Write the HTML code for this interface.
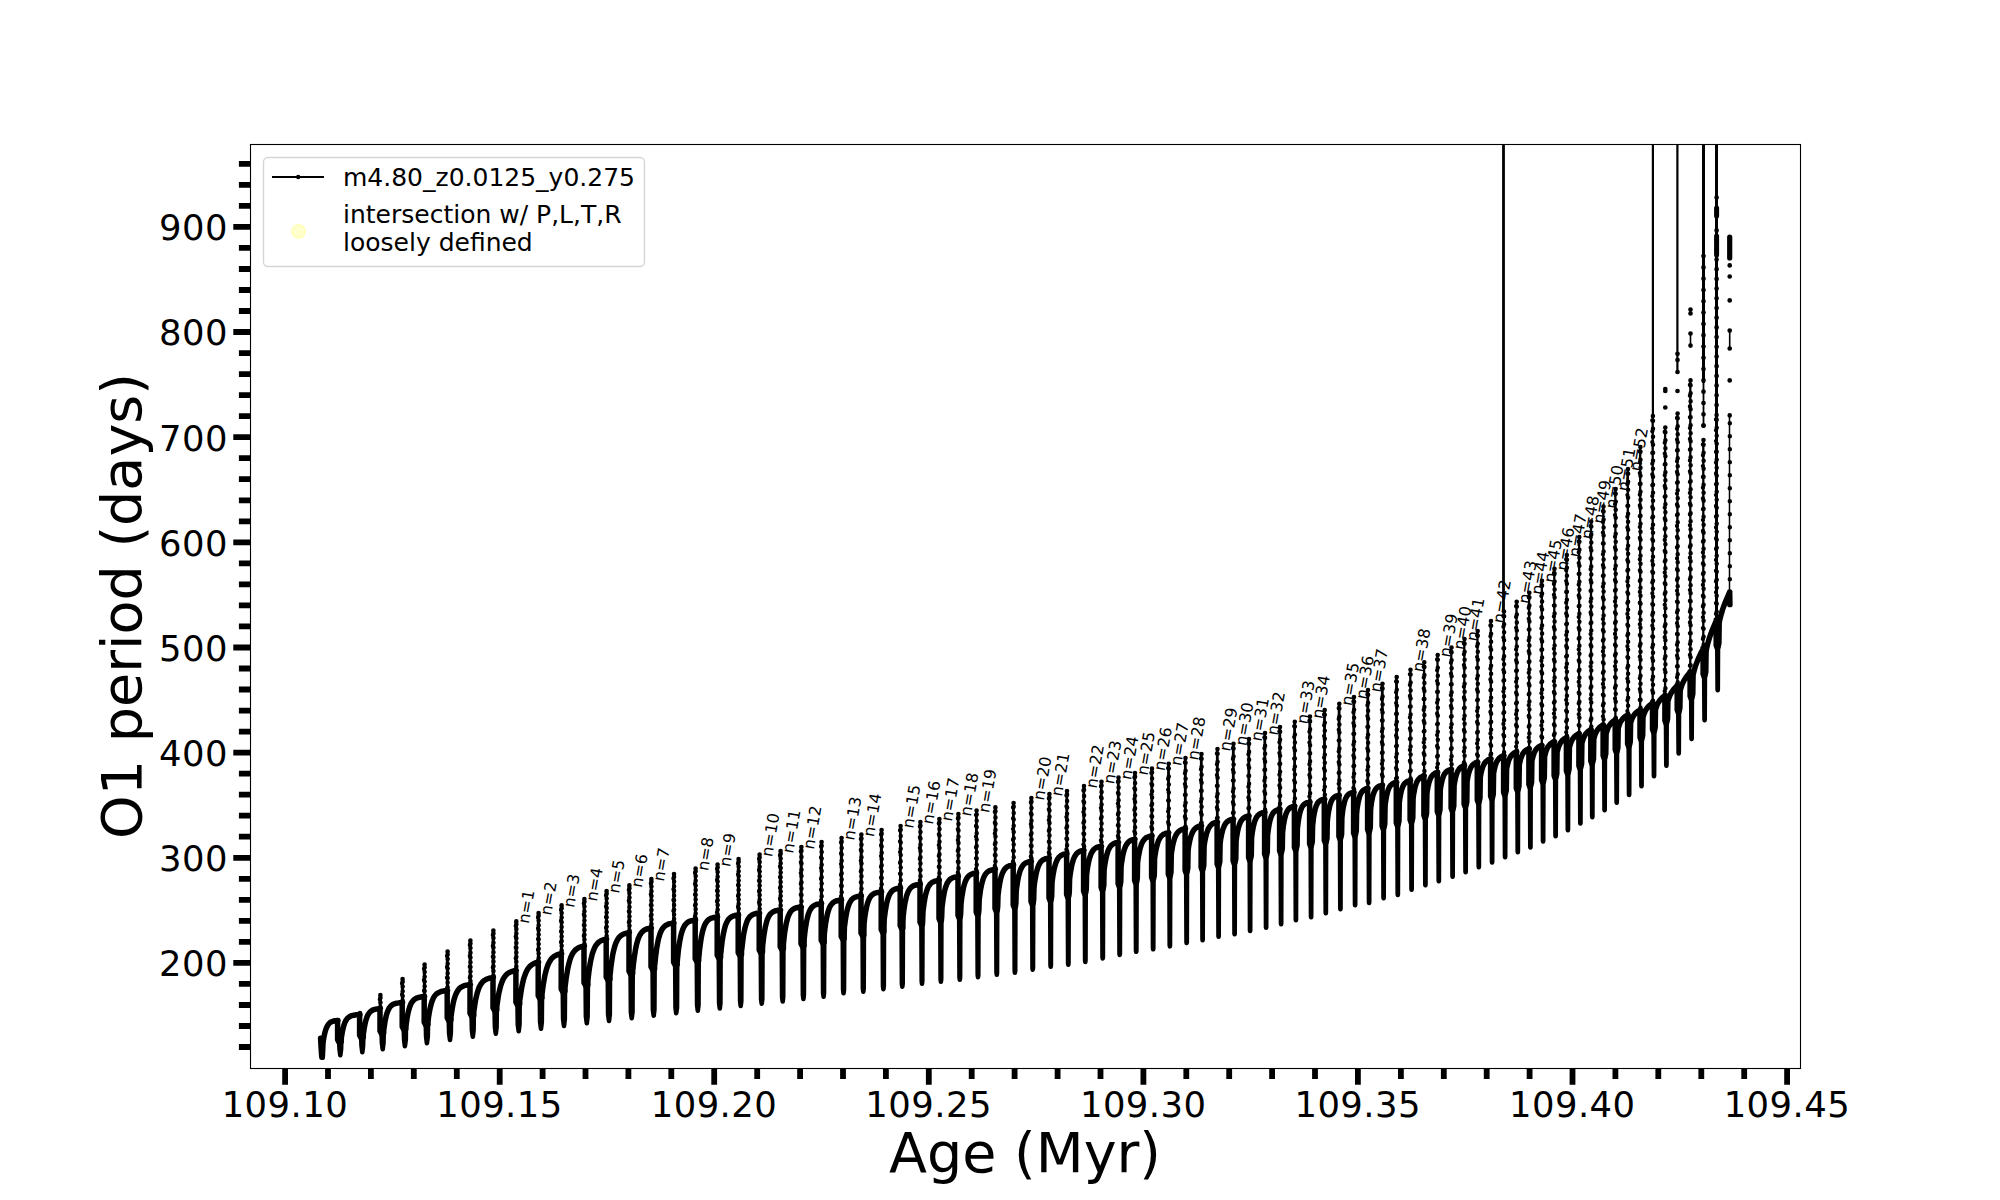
<!DOCTYPE html>
<html lang="en">
<head>
<meta charset="utf-8">
<title>O1 period vs Age</title>
<style>html,body{margin:0;padding:0;background:#fff;}body{width:2000px;height:1200px;overflow:hidden;position:relative;}</style>
</head>
<body>
<svg width="2000" height="1200" viewBox="0 0 2000 1200" style="position:absolute;left:0;top:0;display:block" font-family="'DejaVu Sans','Liberation Sans',sans-serif" fill="#000">
<rect x="0" y="0" width="2000" height="1200" fill="#fff"/>
<defs><clipPath id="axclip"><rect x="250" y="144" width="1550" height="924"/></clipPath></defs>
<g clip-path="url(#axclip)" fill="none" stroke="#000" stroke-linecap="round" stroke-linejoin="round">
<path d="M320.6 1038.3L321 1046L321.8 1057.3L322.3 1057.3L322.7 1050.3L323 1043.3L323.1 1042.8L323.2 1041.7L323.4 1040.3L323.7 1038.6L324 1036.7L324.4 1034.9L324.8 1033L325.3 1031.2L325.8 1029.5L326.4 1028L327 1026.7L327.6 1025.5L328.3 1024.5L329 1023.6L329.7 1022.9L330.5 1022.3L331.3 1021.9L332.2 1021.5L333.1 1021.2L334 1021L335 1020.8L335.9 1020.7L337 1020.6L338 1020.5M337.6 1020.5L337.6 1039.6L339.2 1042.6M341.3 1041.6L341.3 1037.8L341.5 1036.8L341.6 1036.3L341.8 1035L342.1 1033.4L342.4 1031.5L342.8 1029.6L343.3 1027.6L343.8 1025.7L344.4 1023.9L345 1022.3L345.7 1020.9L346.4 1019.6L347.2 1018.6L348 1017.8L348.9 1017.1L349.8 1016.5L350.8 1016L351.8 1015.7L352.8 1015.4L353.9 1015.2L355.1 1015L356.2 1014.8L357.5 1014.7L358.7 1014.6L360 1014.5M359.6 1014.5L359.6 1035.3L361.2 1038.3M363.3 1037.3L363.3 1033.9L363.5 1032.9L363.6 1032.4L363.8 1031.2L364 1029.5L364.3 1027.6L364.7 1025.6L365.1 1023.5L365.6 1021.5L366.1 1019.6L366.7 1017.8L367.3 1016.2L368 1014.8L368.7 1013.6L369.5 1012.6L370.3 1011.8L371.1 1011.1L372 1010.5L372.9 1010L373.9 1009.7L374.9 1009.4L375.9 1009.1L377 1008.9L378.1 1008.8L379.2 1008.6L380.4 1008.5M380 1008.5L380 1030.9L381.6 1033.9M383.7 1033.1L383.7 1030.1L383.9 1029.1L384 1028.5L384.2 1027L384.5 1025.1L384.8 1022.9L385.2 1020.5L385.7 1018.1L386.2 1015.8L386.8 1013.7L387.5 1011.8L388.2 1010.1L388.9 1008.6L389.7 1007.4L390.5 1006.4L391.4 1005.5L392.3 1004.8L393.3 1004.3L394.3 1003.9L395.4 1003.5L396.5 1003.3L397.6 1003.1L398.8 1002.9L400 1002.7L401.3 1002.6L402.6 1002.5M402.2 1002.5L402.2 1026.6L403.8 1029.6M405.9 1028.7L406 1025.7L406.2 1024.7L406.2 1024.1L406.4 1022.7L406.7 1020.8L407 1018.5L407.4 1016.2L407.9 1013.8L408.4 1011.4L409 1009.2L409.6 1007.2L410.3 1005.3L411 1003.7L411.8 1002.3L412.7 1001.2L413.5 1000.2L414.4 999.4L415.4 998.7L416.4 998.2L417.5 997.8L418.6 997.5L419.7 997.2L420.9 997L422.1 996.8L423.3 996.6L424.6 996.5M424.2 996.5L424.2 1022.2L425.8 1025.2M428 1024.3L428 1021.3L428.2 1020.3L428.3 1019.6L428.4 1018.1L428.7 1016.1L429.1 1013.8L429.5 1011.4L430 1008.8L430.6 1006.4L431.2 1004L431.8 1001.9L432.6 1000L433.3 998.3L434.1 996.8L435 995.5L435.9 994.5L436.9 993.6L437.9 992.9L439 992.4L440.1 991.9L441.2 991.5L442.4 991.2L443.7 991L444.9 990.8L446.2 990.6L447.6 990.5M447.2 990.5L447.2 1017.7L448.8 1020.7M451 1019.7L451 1016.5L451.2 1015.5L451.3 1014.8L451.5 1013.4L451.7 1011.4L452.1 1009.2L452.5 1006.7L453 1004.2L453.5 1001.7L454.1 999.4L454.8 997.1L455.5 995.1L456.3 993.3L457.1 991.7L458 990.3L458.9 989.2L459.8 988.2L460.8 987.4L461.9 986.7L463 986.2L464.1 985.7L465.3 985.4L466.5 985.1L467.8 984.9L469.1 984.7L470.4 984.5M470 984.5L470 1013.2L471.6 1016.2M473.8 1015.2L473.8 1011.3L474 1010.3L474.1 1009.7L474.3 1008.2L474.6 1006.3L474.9 1004L475.3 1001.5L475.8 998.9L476.4 996.3L477 993.8L477.7 991.5L478.4 989.4L479.1 987.4L480 985.7L480.8 984.2L481.8 982.9L482.7 981.8L483.7 980.9L484.8 980.2L485.9 979.5L487 979L488.2 978.6L489.5 978.2L490.7 977.9L492 977.7L493.4 977.5M493 977.5L493 1007.8L494.6 1010.8M496.8 1009.8L496.8 1006.1L497 1005.1L497.1 1004.4L497.3 1003L497.6 1001L497.9 998.7L498.3 996.2L498.8 993.5L499.4 990.9L500 988.3L500.6 985.9L501.4 983.6L502.1 981.6L502.9 979.7L503.8 978.1L504.7 976.7L505.7 975.4L506.7 974.4L507.7 973.5L508.8 972.8L510 972.2L511.2 971.7L512.4 971.3L513.6 970.9L515 970.6L516.3 970.4M515.9 970.4L515.9 1002.1L517.5 1005.1M519.7 1004.1L519.7 1000.5L519.9 999.5L520 998.9L520.2 997.4L520.5 995.5L520.8 993.1L521.2 990.5L521.7 987.8L522.2 985.1L522.8 982.4L523.4 979.8L524.1 977.4L524.9 975.2L525.7 973.1L526.5 971.3L527.4 969.7L528.3 968.2L529.3 967L530.3 966L531.4 965.1L532.5 964.3L533.6 963.7L534.8 963.1L536 962.7L537.3 962.3L538.6 962M538.2 962L538.2 995.6L539.8 998.6M542 997.6L542 993.7L542.2 992.7L542.3 992L542.5 990.4L542.8 988.2L543.1 985.6L543.6 982.8L544.1 979.9L544.6 976.9L545.2 974.1L545.9 971.3L546.6 968.8L547.4 966.4L548.2 964.3L549.1 962.5L550 960.9L550.9 959.5L551.9 958.3L553 957.3L554.1 956.4L555.2 955.7L556.4 955.1L557.7 954.6L558.9 954.2L560.2 953.9L561.6 953.6M561.2 953.6L561.2 988.9L562.8 991.9M565 990.9L565 986.9L565.2 985.9L565.3 985.2L565.5 983.5L565.8 981.2L566.1 978.5L566.6 975.6L567.1 972.6L567.6 969.5L568.2 966.6L568.9 963.7L569.6 961.1L570.3 958.7L571.1 956.6L572 954.7L572.9 953.1L573.9 951.7L574.9 950.5L575.9 949.5L577 948.7L578.1 948L579.3 947.4L580.5 947L581.8 946.6L583.1 946.3L584.4 946M584 946L584 982.7L585.6 985.7M587.9 984.7L587.9 980.7L588 979.4L588.1 978.6L588.3 976.9L588.6 974.6L588.9 971.9L589.3 968.9L589.8 965.8L590.3 962.7L590.9 959.7L591.6 956.9L592.2 954.2L593 951.8L593.8 949.7L594.6 947.8L595.5 946.1L596.4 944.7L597.4 943.5L598.4 942.5L599.4 941.7L600.5 941L601.7 940.4L602.8 939.9L604 939.6L605.3 939.3L606.6 939M606.2 939L606.2 976.9L607.8 979.9M610 978.9L610 974.9L610.2 973.9L610.3 973L610.5 971.2L610.7 968.7L611.1 965.7L611.5 962.6L612 959.3L612.5 956L613.1 952.8L613.8 949.9L614.5 947.2L615.3 944.7L616.1 942.6L617 940.7L617.9 939.1L618.8 937.7L619.8 936.6L620.9 935.7L622 934.9L623.1 934.3L624.3 933.8L625.5 933.4L626.8 933.1L628.1 932.8L629.4 932.6M629 932.6L629 971.3L630.6 974.3M632.7 973.3L632.7 970.1L632.9 969.1L633 968.3L633.2 966.4L633.4 963.9L633.8 961L634.2 957.8L634.7 954.5L635.2 951.3L635.8 948.1L636.4 945.1L637.1 942.4L637.8 940L638.6 937.8L639.4 936L640.3 934.4L641.2 933L642.2 931.9L643.2 931L644.2 930.2L645.3 929.6L646.5 929.1L647.6 928.7L648.9 928.4L650.1 928.2L651.4 928M651 928L651 966.8L652.6 969.8M654.6 968.8L654.6 965.3L654.8 964.3L654.9 963.4L655.1 961.4L655.4 958.7L655.7 955.6L656.2 952.3L656.6 948.8L657.2 945.4L657.8 942.2L658.4 939.2L659.2 936.5L659.9 934.1L660.7 932L661.6 930.2L662.5 928.7L663.5 927.4L664.5 926.4L665.5 925.5L666.6 924.9L667.7 924.4L668.9 923.9L670.1 923.6L671.4 923.4L672.7 923.2L674 923M673.6 923L673.6 962.1L675.2 965.1M677.2 964.5L677.2 961.5L677.4 960.5L677.4 959.6L677.6 957.7L677.9 955.1L678.2 952L678.6 948.7L679.1 945.4L679.6 942L680.2 938.9L680.8 935.9L681.5 933.3L682.2 930.9L683 928.8L683.8 927L684.7 925.5L685.6 924.3L686.5 923.3L687.5 922.5L688.5 921.8L689.6 921.3L690.7 920.9L691.9 920.6L693.1 920.3L694.3 920.1L695.6 920M695.2 920L695.2 958.6L696.8 961.6M698.7 960.6L698.7 957.6L698.9 956.6L699 955.7L699.2 953.7L699.4 951.1L699.8 948L700.2 944.8L700.7 941.4L701.2 938.1L701.8 935L702.4 932.1L703.1 929.5L703.9 927.2L704.6 925.2L705.5 923.5L706.4 922.1L707.3 920.9L708.3 920L709.3 919.2L710.4 918.6L711.5 918.1L712.6 917.8L713.8 917.5L715 917.3L716.3 917.1L717.6 917M717.2 917L717.2 955.3L718.8 958.3M720.6 957.3L720.6 954.3L720.8 953.3L720.9 952.4L721.1 950.6L721.3 948.2L721.7 945.3L722 942.2L722.5 939L723 935.9L723.6 932.9L724.2 930.1L724.8 927.6L725.5 925.3L726.3 923.3L727.1 921.7L727.9 920.2L728.8 919.1L729.7 918.1L730.7 917.3L731.7 916.7L732.8 916.2L733.9 915.8L735 915.5L736.2 915.3L737.4 915.1L738.6 915M738.2 915L738.2 952.6L739.8 955.6M741.5 954.6L741.5 950.9L741.7 949.9L741.8 949.1L742 947.4L742.3 945L742.6 942.2L743 939.1L743.4 936L743.9 933L744.5 930.1L745.1 927.4L745.8 925L746.5 922.8L747.2 920.9L748 919.3L748.9 917.9L749.8 916.8L750.7 915.9L751.7 915.2L752.7 914.6L753.7 914.1L754.8 913.8L756 913.5L757.1 913.3L758.4 913.1L759.6 913M759.2 913L759.2 949.9L760.8 952.9M762.5 951.9L762.5 947.9L762.7 946.1L762.7 945.3L762.9 943.5L763.2 941.1L763.5 938.4L763.9 935.4L764.4 932.4L764.9 929.4L765.4 926.6L766.1 923.9L766.7 921.5L767.4 919.4L768.2 917.6L769 916L769.8 914.7L770.7 913.7L771.7 912.8L772.6 912.1L773.7 911.5L774.7 911.1L775.8 910.7L777 910.5L778.1 910.3L779.3 910.1L780.6 910M780.2 910L780.2 946.8L781.8 949.8M783.4 948.8L783.4 944.8L783.6 942.1L783.7 941.3L783.9 939.6L784.1 937.3L784.4 934.6L784.8 931.7L785.3 928.7L785.8 925.8L786.3 923.1L787 920.5L787.6 918.2L788.3 916.1L789.1 914.4L789.9 912.8L790.7 911.6L791.6 910.5L792.5 909.7L793.5 909L794.5 908.5L795.6 908L796.7 907.7L797.8 907.5L799 907.3L800.2 907.1L801.4 907M801 907L801 943.6L802.6 946.6M804.1 945.6L804.1 941.6L804.3 937.7L804.4 937L804.6 935.3L804.8 933.1L805.1 930.6L805.5 927.8L806 924.9L806.4 922.1L807 919.5L807.6 917L808.2 914.7L808.9 912.7L809.6 911L810.4 909.5L811.2 908.2L812.1 907.2L813 906.3L813.9 905.6L814.9 905.1L815.9 904.7L817 904.3L818.1 904.1L819.2 903.9L820.4 903.7L821.6 903.6M821.2 903.6L821.2 940.3L822.8 943.3M824.2 942.3L824.2 938.3L824.4 933.2L824.5 932.4L824.7 930.8L824.9 928.7L825.3 926.2L825.6 923.5L826.1 920.7L826.6 918L827.1 915.4L827.7 913L828.3 910.8L829 908.8L829.7 907.1L830.5 905.7L831.3 904.5L832.2 903.5L833.1 902.6L834 902L835 901.4L836 901L837 900.7L838.1 900.5L839.2 900.3L840.4 900.1L841.6 900M841.2 900L841.2 936.4L842.8 939.4M844.2 938.4L844.2 934.4L844.4 927.9L844.4 927.2L844.6 925.7L844.9 923.6L845.2 921.2L845.6 918.6L846 915.9L846.5 913.3L847 910.8L847.6 908.5L848.2 906.4L848.9 904.5L849.6 902.9L850.4 901.5L851.2 900.3L852 899.3L852.9 898.5L853.8 897.9L854.8 897.4L855.8 897L856.9 896.7L857.9 896.4L859.1 896.2L860.2 896.1L861.4 896M861 896L861 933L862.6 936M863.9 935L863.9 931L864.1 923.1L864.2 922.4L864.4 920.8L864.6 918.8L864.9 916.3L865.3 913.7L865.8 911.1L866.3 908.5L866.8 906L867.4 903.7L868.1 901.7L868.7 899.9L869.5 898.3L870.3 897L871.1 895.9L872 895L872.9 894.3L873.8 893.7L874.8 893.2L875.9 892.9L876.9 892.6L878 892.4L879.2 892.2L880.4 892.1L881.6 892M881.2 892L881.2 929.4L882.7 932.4M884 931.4L884 927.4L884.2 919.9L884.3 919.2L884.4 917.7L884.7 915.7L885 913.4L885.3 910.8L885.8 908.2L886.2 905.6L886.7 903.1L887.3 900.8L887.9 898.7L888.6 896.8L889.2 895.1L890 893.7L890.8 892.5L891.6 891.5L892.4 890.7L893.3 890L894.3 889.5L895.2 889.1L896.2 888.7L897.3 888.5L898.3 888.3L899.5 888.1L900.6 888M900.2 888L900.2 925.7L901.6 928.7M902.9 927.7L902.9 923.7L903.2 916L903.3 915.3L903.5 913.7L903.7 911.6L904 909.2L904.4 906.6L904.8 903.9L905.3 901.3L905.9 898.8L906.4 896.5L907.1 894.4L907.8 892.6L908.5 891L909.3 889.6L910.1 888.5L910.9 887.6L911.8 886.8L912.8 886.2L913.7 885.7L914.8 885.3L915.8 885L916.9 884.8L918 884.6L919.2 884.5L920.4 884.4M920 884.4L920 922.1L921.4 925.1M922.5 924.1L922.7 920.1L923 911.7L923.1 911L923.2 909.5L923.5 907.6L923.8 905.3L924.1 902.8L924.6 900.2L925 897.6L925.5 895.2L926.1 892.9L926.7 890.9L927.4 889L928 887.4L928.8 886L929.6 884.8L930.4 883.9L931.2 883.1L932.1 882.4L933.1 881.9L934 881.5L935 881.1L936.1 880.9L937.1 880.7L938.3 880.5L939.4 880.4M939 880.4L939 918.6L940.3 921.6M941.4 920.6L941.7 916.6L942 907.8L942.1 907.1L942.2 905.6L942.5 903.7L942.8 901.4L943.1 898.9L943.6 896.3L944 893.8L944.5 891.4L945.1 889.1L945.7 887L946.4 885.2L947 883.6L947.8 882.2L948.6 881L949.4 880.1L950.2 879.2L951.1 878.6L952.1 878.1L953 877.7L954 877.3L955.1 877.1L956.1 876.9L957.3 876.7L958.4 876.6M958 876.6L958 915.3L959.2 918.3M960.3 917.3L960.7 913.3L961 904L961.1 903.3L961.2 902L961.5 900.1L961.7 897.9L962.1 895.5L962.5 893L962.9 890.6L963.4 888.2L963.9 886L964.5 883.9L965.1 882.1L965.8 880.4L966.5 879L967.2 877.8L968 876.8L968.8 875.9L969.7 875.2L970.6 874.7L971.5 874.2L972.4 873.8L973.4 873.5L974.5 873.3L975.5 873.1L976.6 873M976.2 873L976.2 911.9L977.4 914.9M978.5 913.9L978.9 909.9L979.2 900L979.3 899.3L979.4 897.9L979.7 896L980 893.8L980.3 891.4L980.7 888.9L981.2 886.4L981.7 884L982.3 881.8L982.9 879.8L983.5 878L984.2 876.4L984.9 875L985.7 873.9L986.5 872.9L987.3 872.1L988.2 871.4L989.1 870.9L990.1 870.5L991.1 870.1L992.1 869.9L993.2 869.7L994.3 869.5L995.4 869.4M995 869.4L995 908.6L996.2 911.6M997.2 910.6L997.7 906.6L998 895.5L998.1 894.9L998.2 893.6L998.5 891.7L998.7 889.6L999.1 887.2L999.5 884.8L999.9 882.3L1000.4 880L1000.9 877.8L1001.5 875.8L1002.1 874L1002.8 872.4L1003.5 871L1004.2 869.8L1005 868.8L1005.8 867.9L1006.7 867.2L1007.6 866.7L1008.5 866.2L1009.4 865.8L1010.4 865.6L1011.5 865.3L1012.5 865.1L1013.6 865M1013.2 865L1013.2 905L1014.4 908M1015.4 907L1015.9 903L1016.2 891.6L1016.3 891L1016.4 889.7L1016.6 887.9L1016.9 885.8L1017.3 883.5L1017.6 881.2L1018.1 878.8L1018.5 876.5L1019.1 874.3L1019.6 872.3L1020.2 870.5L1020.9 868.9L1021.6 867.5L1022.3 866.3L1023 865.3L1023.8 864.4L1024.7 863.7L1025.5 863.1L1026.4 862.7L1027.3 862.3L1028.3 862L1029.3 861.7L1030.3 861.6L1031.4 861.4M1031 861.4L1031 901.5L1032.2 904.5M1033.2 903.5L1033.7 899.5L1034 887.7L1034.1 887.1L1034.2 885.7L1034.4 884L1034.7 881.9L1035.1 879.6L1035.5 877.3L1035.9 874.9L1036.4 872.7L1036.9 870.6L1037.5 868.6L1038.1 866.8L1038.7 865.3L1039.4 863.9L1040.2 862.7L1040.9 861.7L1041.7 860.9L1042.6 860.2L1043.4 859.7L1044.4 859.2L1045.3 858.8L1046.3 858.6L1047.3 858.3L1048.3 858.1L1049.4 858M1049 858L1049 898.1L1050.2 901.1M1051.1 900.1L1051.7 896.1L1052 883L1052.1 882.4L1052.2 881.2L1052.4 879.5L1052.7 877.4L1053 875.2L1053.4 873L1053.8 870.7L1054.3 868.5L1054.8 866.4L1055.4 864.4L1056 862.7L1056.6 861.1L1057.3 859.7L1058 858.5L1058.7 857.5L1059.5 856.7L1060.3 856L1061.2 855.4L1062.1 854.9L1063 854.5L1064 854.2L1064.9 854L1066 853.8L1067 853.6M1066.6 853.6L1066.6 894.5L1067.8 897.5M1068.7 896.5L1069.3 892.5L1069.6 879.2L1069.7 878.6L1069.8 877.4L1070 875.8L1070.3 873.9L1070.6 871.8L1071 869.6L1071.4 867.3L1071.8 865.2L1072.3 863.1L1072.9 861.2L1073.4 859.5L1074 857.9L1074.7 856.5L1075.4 855.3L1076.1 854.3L1076.8 853.4L1077.6 852.7L1078.4 852.1L1079.3 851.6L1080.2 851.2L1081.1 850.9L1082 850.6L1083 850.4L1084 850.2M1083.6 850.2L1083.6 891.2L1084.8 894.2M1085.7 893.2L1086.3 889.2L1086.6 874.8L1086.7 874.3L1086.8 873.1L1087 871.4L1087.3 869.4L1087.6 867.3L1088 865.1L1088.4 862.9L1088.9 860.7L1089.4 858.7L1090 856.8L1090.6 855.1L1091.2 853.6L1091.9 852.2L1092.6 851.1L1093.3 850.1L1094.1 849.2L1094.9 848.5L1095.7 848L1096.6 847.5L1097.5 847.1L1098.5 846.8L1099.5 846.6L1100.5 846.4L1101.5 846.2M1101.1 846.2L1101.1 887.3L1102.2 890.3M1103.1 889.3L1103.8 885.3L1104.1 870.2L1104.2 869.7L1104.3 868.6L1104.5 867L1104.8 865.1L1105.1 863.1L1105.5 861L1105.9 858.8L1106.3 856.7L1106.8 854.8L1107.4 852.9L1107.9 851.2L1108.5 849.7L1109.2 848.4L1109.9 847.2L1110.6 846.2L1111.3 845.4L1112.1 844.7L1112.9 844.1L1113.8 843.6L1114.7 843.2L1115.6 842.9L1116.5 842.6L1117.5 842.4L1118.5 842.2M1118.1 842.2L1118.1 883.5L1119.2 886.5M1120.1 885.5L1120.8 881.5L1121.1 866.3L1121.2 865.8L1121.3 864.7L1121.5 863.3L1121.8 861.5L1122.1 859.6L1122.4 857.6L1122.8 855.5L1123.2 853.5L1123.7 851.6L1124.2 849.9L1124.8 848.2L1125.4 846.7L1126 845.4L1126.7 844.3L1127.4 843.3L1128.1 842.4L1128.8 841.7L1129.6 841.1L1130.4 840.6L1131.3 840.2L1132.2 839.9L1133.1 839.6L1134 839.4L1135 839.2M1134.6 839.2L1134.6 880.3L1135.7 883.3M1136.6 882.3L1137.3 878.3L1137.6 862.4L1137.7 861.9L1137.8 860.8L1138 859.3L1138.3 857.5L1138.6 855.6L1139 853.6L1139.4 851.6L1139.8 849.6L1140.3 847.8L1140.9 846L1141.4 844.4L1142 843L1142.7 841.7L1143.4 840.6L1144.1 839.7L1144.8 838.9L1145.6 838.2L1146.4 837.7L1147.3 837.2L1148.2 836.8L1149.1 836.5L1150 836.3L1151 836.1L1152 835.9M1151.6 835.9L1151.6 877.2L1152.7 880.2M1153.5 879.2L1154.3 875.2L1154.6 858.6L1154.7 858.1L1154.8 857.1L1155 855.6L1155.3 854L1155.6 852.1L1155.9 850.2L1156.3 848.2L1156.8 846.3L1157.3 844.5L1157.8 842.8L1158.3 841.2L1158.9 839.8L1159.6 838.6L1160.2 837.5L1160.9 836.6L1161.7 835.8L1162.4 835.1L1163.2 834.5L1164.1 834L1164.9 833.7L1165.8 833.3L1166.8 833.1L1167.7 832.9L1168.7 832.7M1168.3 832.7L1168.3 874.1L1169.4 877.1M1170.2 876.1L1171 872.1L1171.3 854.2L1171.4 853.7L1171.5 852.7L1171.7 851.3L1172 849.6L1172.3 847.8L1172.6 845.9L1173 844L1173.5 842.1L1174 840.3L1174.5 838.6L1175.1 837.1L1175.7 835.7L1176.3 834.5L1177 833.4L1177.7 832.5L1178.4 831.7L1179.2 831.1L1180 830.5L1180.8 830L1181.7 829.7L1182.6 829.3L1183.5 829.1L1184.5 828.9L1185.5 828.7M1185.1 828.7L1185.1 870.3L1186.2 873.3M1187 872.3L1187.8 868.3L1188.1 850.3L1188.2 849.8L1188.3 848.9L1188.5 847.6L1188.7 846.1L1189 844.4L1189.4 842.6L1189.7 840.8L1190.2 839L1190.6 837.3L1191.1 835.7L1191.7 834.2L1192.2 832.9L1192.8 831.7L1193.5 830.6L1194.1 829.7L1194.8 828.9L1195.6 828.2L1196.3 827.6L1197.1 827.1L1197.9 826.7L1198.8 826.4L1199.7 826.1L1200.6 825.9L1201.5 825.7M1201.1 825.7L1201.1 867.3L1202.2 870.3M1202.9 869.3L1203.8 865.3L1204.1 846.2L1204.2 845.7L1204.3 844.8L1204.5 843.5L1204.7 842L1205 840.4L1205.4 838.6L1205.7 836.9L1206.2 835.1L1206.6 833.4L1207.1 831.9L1207.7 830.4L1208.2 829.1L1208.8 827.9L1209.5 826.9L1210.1 826L1210.8 825.2L1211.6 824.5L1212.3 823.9L1213.1 823.4L1213.9 823L1214.8 822.7L1215.7 822.4L1216.6 822.2L1217.5 822M1217.1 822L1217.1 863.7L1218.2 866.7M1218.9 865.7L1219.8 861.7L1220.1 843.4L1220.2 843L1220.3 842L1220.5 840.7L1220.7 839.1L1221 837.4L1221.4 835.6L1221.7 833.8L1222.2 832L1222.6 830.3L1223.1 828.7L1223.7 827.3L1224.2 826L1224.8 824.8L1225.5 823.7L1226.1 822.8L1226.8 822.1L1227.6 821.4L1228.3 820.9L1229.1 820.4L1229.9 820L1230.8 819.7L1231.7 819.5L1232.6 819.3L1233.5 819.1M1233.1 819.1L1233.1 860.9L1234.2 863.9M1234.9 862.9L1235.8 858.9L1236.1 840.8L1236.2 840.3L1236.3 839.3L1236.5 838L1236.7 836.4L1237 834.7L1237.3 832.8L1237.7 831L1238.1 829.2L1238.5 827.4L1239 825.8L1239.5 824.3L1240.1 823L1240.6 821.8L1241.3 820.7L1241.9 819.8L1242.6 819L1243.3 818.3L1244 817.8L1244.8 817.3L1245.6 816.9L1246.4 816.6L1247.2 816.3L1248.1 816.1L1249 815.9M1248.6 815.9L1248.6 857.6L1249.7 860.6M1250.4 859.6L1251.3 855.6L1251.6 837.6L1251.7 837.1L1251.8 836.1L1252 834.6L1252.2 832.9L1252.5 831L1252.9 829.1L1253.2 827.1L1253.7 825.2L1254.1 823.5L1254.6 821.8L1255.2 820.3L1255.7 818.9L1256.3 817.7L1257 816.7L1257.6 815.8L1258.3 815.1L1259.1 814.4L1259.8 813.9L1260.6 813.5L1261.4 813.1L1262.3 812.8L1263.2 812.6L1264.1 812.4L1265 812.2M1264.6 812.2L1264.6 854.1L1265.7 857.1M1266.4 856.1L1267.3 852.1L1267.6 834.8L1267.7 834.4L1267.8 833.3L1268 831.9L1268.2 830.2L1268.5 828.4L1268.8 826.4L1269.1 824.5L1269.5 822.6L1269.9 820.8L1270.4 819.2L1270.9 817.6L1271.4 816.2L1272 815L1272.6 813.9L1273.2 813L1273.8 812.2L1274.5 811.6L1275.2 811L1275.9 810.5L1276.7 810.2L1277.5 809.9L1278.3 809.6L1279.1 809.4L1280 809.2M1279.6 809.2L1279.6 850.9L1280.7 853.9M1281.4 852.9L1282.3 848.9L1282.6 832L1282.7 831.5L1282.8 830.4L1283 829L1283.2 827.2L1283.4 825.3L1283.8 823.4L1284.1 821.4L1284.5 819.5L1284.9 817.6L1285.4 815.9L1285.8 814.4L1286.4 813L1286.9 811.8L1287.5 810.7L1288.1 809.8L1288.7 809L1289.4 808.3L1290.1 807.8L1290.8 807.3L1291.5 807L1292.3 806.6L1293.1 806.4L1293.9 806.2L1294.8 806M1294.4 806L1294.4 847.3L1295.5 850.3M1296.2 849.3L1297.1 845.3L1297.4 828.6L1297.5 828L1297.6 826.8L1297.8 825.3L1298 823.4L1298.3 821.4L1298.6 819.3L1299 817.2L1299.3 815.2L1299.8 813.3L1300.2 811.6L1300.7 810.1L1301.3 808.7L1301.8 807.5L1302.4 806.4L1303.1 805.5L1303.7 804.8L1304.4 804.2L1305.1 803.7L1305.9 803.2L1306.6 802.9L1307.4 802.6L1308.3 802.4L1309.1 802.2L1310 802M1309.6 802L1309.6 843.7L1310.7 846.7M1311.4 845.7L1312.3 841.7L1312.6 825.8L1312.7 825.2L1312.8 824L1313 822.4L1313.2 820.6L1313.4 818.5L1313.7 816.4L1314.1 814.3L1314.5 812.3L1314.9 810.4L1315.3 808.6L1315.8 807.1L1316.3 805.7L1316.9 804.5L1317.4 803.4L1318 802.5L1318.7 801.8L1319.3 801.2L1320 800.7L1320.7 800.3L1321.5 799.9L1322.2 799.7L1323 799.4L1323.9 799.3L1324.7 799.1M1324.3 799.1L1324.3 840.4L1325.4 843.4M1326.1 842.4L1327 838.4L1327.3 821.5L1327.4 821L1327.5 819.9L1327.6 818.3L1327.9 816.5L1328.1 814.5L1328.4 812.5L1328.8 810.4L1329.2 808.5L1329.6 806.6L1330 804.9L1330.5 803.4L1331 802L1331.5 800.8L1332.1 799.7L1332.7 798.8L1333.3 798.1L1334 797.5L1334.7 796.9L1335.4 796.5L1336.1 796.1L1336.9 795.8L1337.7 795.6L1338.5 795.4L1339.3 795.2M1338.9 795.2L1338.9 836.4L1340 839.4M1340.7 838.4L1341.6 834.4L1341.9 817.5L1342 817L1342.1 815.9L1342.3 814.4L1342.5 812.7L1342.7 810.7L1343 808.8L1343.4 806.8L1343.8 804.9L1344.2 803.1L1344.6 801.5L1345.1 800L1345.6 798.6L1346.2 797.5L1346.7 796.5L1347.3 795.6L1348 794.9L1348.6 794.3L1349.3 793.8L1350 793.4L1350.8 793.1L1351.5 792.8L1352.3 792.6L1353.2 792.4L1354 792.2M1353.6 792.2L1353.6 833L1354.7 836M1355.4 835L1356.3 831L1356.6 813.2L1356.7 812.7L1356.8 811.7L1356.9 810.4L1357.1 808.7L1357.4 806.9L1357.7 805.1L1358 803.2L1358.4 801.4L1358.8 799.7L1359.2 798.1L1359.6 796.6L1360.1 795.2L1360.6 794.1L1361.2 793L1361.7 792.1L1362.3 791.3L1362.9 790.7L1363.6 790.1L1364.3 789.7L1365 789.3L1365.7 788.9L1366.4 788.7L1367.2 788.4L1368 788.2M1367.6 788.2L1367.6 829.6L1368.7 832.6M1369.4 831.6L1370.3 827.6L1370.6 809.5L1370.7 809L1370.8 808L1370.9 806.6L1371.2 805L1371.4 803.2L1371.7 801.4L1372.1 799.5L1372.4 797.7L1372.8 796L1373.3 794.4L1373.8 793L1374.3 791.7L1374.8 790.6L1375.4 789.6L1376 788.7L1376.6 788L1377.2 787.4L1377.9 786.9L1378.6 786.5L1379.3 786.1L1380.1 785.8L1380.9 785.6L1381.7 785.4L1382.5 785.2M1382.1 785.2L1382.1 826L1383.2 829M1383.9 828L1384.8 824L1385.1 805.6L1385.2 805.2L1385.3 804.2L1385.4 802.9L1385.7 801.4L1385.9 799.7L1386.2 798L1386.5 796.2L1386.9 794.5L1387.3 792.9L1387.7 791.4L1388.2 790L1388.7 788.7L1389.2 787.6L1389.7 786.6L1390.3 785.8L1390.9 785.1L1391.6 784.5L1392.2 784L1392.9 783.5L1393.6 783.2L1394.3 782.9L1395.1 782.6L1395.9 782.4L1396.7 782.2M1396.3 782.2L1396.3 822.9L1397.4 825.9M1398.1 824.9L1399 820.9L1399.3 802.6L1399.4 802.2L1399.5 801.3L1399.6 800.1L1399.8 798.7L1400.1 797.2L1400.4 795.5L1400.7 793.9L1401 792.3L1401.4 790.7L1401.8 789.3L1402.3 788L1402.7 786.8L1403.2 785.7L1403.8 784.8L1404.3 783.9L1404.9 783.3L1405.5 782.7L1406.2 782.2L1406.8 781.7L1407.5 781.4L1408.2 781.1L1409 780.9L1409.7 780.7L1410.5 780.5M1410.1 780.5L1410.1 819.9L1411.2 822.9M1411.9 821.9L1412.8 817.9L1413.1 798.2L1413.2 797.8L1413.3 797L1413.4 795.8L1413.6 794.5L1413.9 793L1414.2 791.4L1414.5 789.8L1414.8 788.2L1415.2 786.7L1415.6 785.3L1416.1 783.9L1416.5 782.7L1417 781.7L1417.6 780.7L1418.1 779.9L1418.7 779.1L1419.3 778.5L1420 777.9L1420.6 777.4L1421.3 777L1422 776.7L1422.8 776.3L1423.5 776.1L1424.3 775.8M1423.9 775.8L1423.9 815.3L1425 818.3M1425.7 817.3L1426.6 813.3L1426.9 793.6L1426.9 793.3L1427.1 792.5L1427.2 791.4L1427.4 790.1L1427.7 788.7L1427.9 787.2L1428.2 785.7L1428.6 784.2L1428.9 782.8L1429.3 781.4L1429.8 780.2L1430.2 779L1430.7 778L1431.2 777L1431.8 776.2L1432.3 775.5L1432.9 774.9L1433.5 774.3L1434.2 773.9L1434.8 773.4L1435.5 773.1L1436.2 772.8L1436.9 772.5L1437.7 772.3M1437.3 772.3L1437.3 811.6L1438.4 814.6M1439.1 813.6L1440 809.6L1440.3 789.8L1440.4 789.4L1440.5 788.6L1440.6 787.6L1440.8 786.3L1441.1 784.9L1441.4 783.5L1441.7 782L1442 780.6L1442.4 779.2L1442.8 777.9L1443.3 776.6L1443.7 775.5L1444.2 774.5L1444.8 773.7L1445.3 772.9L1445.9 772.2L1446.5 771.6L1447.2 771.1L1447.8 770.7L1448.5 770.3L1449.2 770L1450 769.7L1450.7 769.5L1451.5 769.3M1451.1 769.3L1451.1 808L1452.2 811M1452.9 810L1453.8 806L1454.1 785.6L1454.1 785.2L1454.3 784.5L1454.4 783.6L1454.6 782.4L1454.8 781.2L1455.1 779.8L1455.4 778.5L1455.7 777.1L1456.1 775.8L1456.4 774.5L1456.9 773.4L1457.3 772.3L1457.8 771.3L1458.3 770.4L1458.8 769.6L1459.3 768.8L1459.9 768.2L1460.5 767.7L1461.1 767.2L1461.7 766.7L1462.4 766.4L1463.1 766L1463.8 765.8L1464.5 765.5M1464.1 765.5L1464.1 804L1465.2 807M1465.9 806L1466.8 802L1467.1 781.3L1467.1 781L1467.3 780.4L1467.4 779.4L1467.6 778.3L1467.8 777.1L1468.1 775.8L1468.4 774.5L1468.7 773.2L1469.1 771.9L1469.5 770.7L1469.9 769.5L1470.4 768.5L1470.8 767.5L1471.3 766.7L1471.9 765.9L1472.4 765.2L1473 764.6L1473.6 764.1L1474.2 763.7L1474.9 763.3L1475.5 762.9L1476.2 762.6L1477 762.3L1477.7 762.1M1477.3 762.1L1477.3 800L1478.4 803M1479.1 802L1480 798L1480.3 777.3L1480.3 777L1480.5 776.3L1480.6 775.4L1480.8 774.4L1481 773.2L1481.3 772L1481.6 770.7L1482 769.4L1482.3 768.2L1482.7 767.1L1483.1 766L1483.6 765L1484.1 764.1L1484.6 763.2L1485.1 762.5L1485.7 761.9L1486.3 761.3L1486.9 760.8L1487.5 760.3L1488.1 759.9L1488.8 759.6L1489.5 759.3L1490.3 759L1491 758.8M1490.6 758.8L1490.6 796.1L1491.7 799.1M1492.4 798.1L1493.3 794.1L1493.6 773.2L1493.6 773L1493.8 772.4L1493.9 771.5L1494.1 770.6L1494.3 769.5L1494.6 768.3L1494.9 767.1L1495.2 765.9L1495.6 764.8L1495.9 763.7L1496.4 762.6L1496.8 761.7L1497.3 760.8L1497.8 760L1498.3 759.3L1498.8 758.6L1499.4 758L1500 757.5L1500.6 757.1L1501.2 756.7L1501.9 756.3L1502.6 756L1503.3 755.8L1504 755.5M1503.6 755.5L1503.6 792.2L1504.7 795.2M1505.4 794.2L1506.3 790.2L1506.6 769L1506.6 768.8L1506.7 768.2L1506.9 767.5L1507.1 766.6L1507.3 765.5L1507.6 764.5L1507.8 763.3L1508.2 762.2L1508.5 761.1L1508.9 760.1L1509.3 759.1L1509.7 758.1L1510.2 757.3L1510.6 756.5L1511.1 755.7L1511.7 755.1L1512.2 754.5L1512.8 754L1513.4 753.5L1514 753.1L1514.6 752.7L1515.3 752.4L1516 752.1L1516.7 751.8M1516.3 751.8L1516.3 788L1517.4 791M1518.1 790L1519 786L1519.3 764.9L1519.3 764.6L1519.4 764.1L1519.6 763.4L1519.8 762.6L1520 761.6L1520.2 760.6L1520.5 759.5L1520.8 758.5L1521.2 757.5L1521.6 756.5L1522 755.5L1522.4 754.6L1522.8 753.8L1523.3 753L1523.8 752.4L1524.3 751.7L1524.9 751.2L1525.4 750.7L1526 750.2L1526.6 749.8L1527.3 749.5L1527.9 749.2L1528.6 748.9L1529.3 748.6M1528.9 748.6L1528.9 784.2L1530 787.2M1530.7 786.2L1531.6 782.2L1531.9 761L1531.9 760.8L1532 760.3L1532.2 759.6L1532.4 758.8L1532.6 757.9L1532.9 756.9L1533.1 755.9L1533.5 754.9L1533.8 753.9L1534.2 752.9L1534.6 752L1535 751.2L1535.5 750.4L1535.9 749.7L1536.4 749L1537 748.4L1537.5 747.9L1538.1 747.4L1538.7 746.9L1539.3 746.5L1539.9 746.2L1540.6 745.9L1541.3 745.6L1542 745.3M1541.6 745.3L1541.6 779.9L1542.7 782.9M1543.4 781.9L1544.3 777.9L1544.6 756.7L1544.6 756.5L1544.7 756.1L1544.9 755.4L1545.1 754.7L1545.3 753.8L1545.5 752.9L1545.8 752L1546.1 751L1546.5 750.1L1546.8 749.2L1547.2 748.3L1547.6 747.5L1548.1 746.7L1548.6 746L1549.1 745.4L1549.6 744.8L1550.1 744.2L1550.7 743.7L1551.3 743.3L1551.9 742.8L1552.5 742.5L1553.1 742.1L1553.8 741.8L1554.5 741.5M1554.1 741.5L1554.1 775.6L1555.2 778.6M1555.9 777.6L1556.8 773.6L1557.1 752.3L1557.1 752.1L1557.2 751.7L1557.4 751.1L1557.6 750.4L1557.8 749.6L1558 748.7L1558.3 747.8L1558.6 746.9L1558.9 746L1559.3 745.2L1559.7 744.3L1560.1 743.5L1560.5 742.8L1561 742.1L1561.5 741.4L1562 740.8L1562.5 740.3L1563 739.8L1563.6 739.3L1564.2 738.9L1564.8 738.5L1565.5 738.2L1566.1 737.8L1566.8 737.5M1566.4 737.5L1566.4 770.9L1567.5 773.9M1568.2 772.9L1569.1 768.9L1569.4 747.7L1569.4 747.5L1569.5 747.1L1569.7 746.5L1569.9 745.9L1570.1 745.1L1570.3 744.3L1570.6 743.5L1570.9 742.6L1571.3 741.7L1571.6 740.9L1572 740.1L1572.4 739.4L1572.9 738.7L1573.4 738L1573.9 737.4L1574.4 736.8L1574.9 736.3L1575.5 735.8L1576.1 735.4L1576.7 735L1577.3 734.6L1577.9 734.2L1578.6 733.9L1579.3 733.6M1578.9 733.6L1578.9 765.9L1580 768.9M1580.7 767.9L1581.6 763.9L1581.9 743.4L1581.9 743.2L1582 742.8L1582.2 742.3L1582.3 741.7L1582.5 741L1582.8 740.2L1583 739.4L1583.3 738.6L1583.7 737.8L1584 737L1584.4 736.2L1584.8 735.5L1585.2 734.8L1585.6 734.1L1586.1 733.5L1586.6 732.9L1587.1 732.4L1587.6 731.9L1588.2 731.4L1588.7 731L1589.3 730.6L1589.9 730.2L1590.6 729.8L1591.2 729.5M1590.8 729.5L1590.8 761L1591.9 764M1592.6 763L1593.5 759L1593.8 739L1593.8 738.8L1593.9 738.4L1594.1 737.9L1594.3 737.2L1594.5 736.5L1594.7 735.7L1595 734.9L1595.3 734.1L1595.6 733.3L1596 732.5L1596.4 731.7L1596.8 731L1597.2 730.3L1597.7 729.6L1598.2 729L1598.7 728.4L1599.2 727.8L1599.7 727.3L1600.3 726.8L1600.9 726.4L1601.5 726L1602.2 725.5L1602.8 725.2L1603.5 724.8M1603.1 724.8L1603.1 755.6L1604.2 758.6M1604.9 757.6L1605.8 753.6L1606.1 733.9L1606.1 733.7L1606.2 733.3L1606.4 732.8L1606.6 732.2L1606.8 731.5L1607 730.7L1607.3 730L1607.6 729.2L1607.9 728.4L1608.2 727.6L1608.6 726.8L1609 726.1L1609.5 725.4L1609.9 724.7L1610.4 724.1L1610.9 723.5L1611.4 722.9L1611.9 722.4L1612.5 721.9L1613.1 721.4L1613.7 721L1614.3 720.6L1614.9 720.2L1615.6 719.8M1615.2 719.8L1615.2 749.6L1616.3 752.6M1617 751.6L1617.9 747.6L1618.2 728.5L1618.2 728.3L1618.3 727.9L1618.5 727.4L1618.7 726.8L1618.9 726.2L1619.1 725.4L1619.4 724.6L1619.7 723.9L1620 723.1L1620.4 722.3L1620.8 721.6L1621.2 720.8L1621.7 720.2L1622.1 719.5L1622.6 718.9L1623.1 718.3L1623.7 717.8L1624.2 717.3L1624.8 716.8L1625.4 716.4L1626 716L1626.7 715.6L1627.3 715.2L1628 714.8M1627.6 714.8L1627.6 743.7L1628.7 746.7M1629.4 745.7L1630.3 741.7L1630.6 723.1L1630.6 722.9L1630.7 722.6L1630.9 722.1L1631.1 721.5L1631.3 720.8L1631.5 720.1L1631.8 719.4L1632.1 718.6L1632.4 717.9L1632.8 717.1L1633.2 716.4L1633.6 715.7L1634.1 715.1L1634.5 714.4L1635 713.8L1635.5 713.3L1636.1 712.8L1636.6 712.3L1637.2 711.8L1637.8 711.4L1638.4 711L1639.1 710.6L1639.7 710.2L1640.4 709.8M1640 709.8L1640 737.3L1641.1 740.3M1641.8 739.3L1642.7 735.3L1643 717.2L1643 717.1L1643.1 716.7L1643.3 716.2L1643.5 715.6L1643.7 715L1643.9 714.2L1644.2 713.5L1644.5 712.7L1644.9 711.9L1645.2 711.1L1645.6 710.4L1646 709.6L1646.5 708.9L1647 708.3L1647.5 707.6L1648 707L1648.5 706.4L1649.1 705.8L1649.7 705.3L1650.3 704.8L1650.9 704.3L1651.5 703.8L1652.2 703.3L1652.9 702.8M1652.5 702.8L1652.5 729.3L1653.6 732.3M1654.3 731.3L1655.2 727.3L1655.5 709.7L1655.5 709.6L1655.6 709.2L1655.8 708.7L1656 708.2L1656.2 707.5L1656.4 706.8L1656.7 706.1L1657 705.3L1657.3 704.5L1657.7 703.8L1658.1 703L1658.5 702.3L1659 701.6L1659.4 700.9L1659.9 700.3L1660.4 699.6L1661 699L1661.5 698.4L1662.1 697.9L1662.7 697.3L1663.3 696.8L1664 696.3L1664.6 695.8L1665.3 695.3M1664.9 695.3L1664.9 720.6L1666 723.6M1666.7 722.6L1667.6 718.6L1667.9 701.3L1667.9 701.1L1668 700.8L1668.2 700.3L1668.4 699.7L1668.6 699L1668.8 698.3L1669.1 697.6L1669.4 696.8L1669.7 696L1670.1 695.1L1670.5 694.3L1670.9 693.5L1671.3 692.8L1671.8 692L1672.3 691.3L1672.8 690.6L1673.3 689.9L1673.8 689.2L1674.4 688.5L1675 687.9L1675.6 687.2L1676.3 686.6L1676.9 685.9L1677.6 685.3M1677.2 685.3L1677.2 709.8L1678.3 712.8M1679 711.8L1679.9 707.8L1680.2 690.4L1680.2 690.3L1680.4 689.9L1680.5 689.4L1680.7 688.7L1680.9 688L1681.2 687.2L1681.5 686.3L1681.8 685.4L1682.1 684.5L1682.5 683.6L1682.9 682.7L1683.4 681.8L1683.8 680.9L1684.3 680.1L1684.8 679.2L1685.4 678.4L1685.9 677.5L1686.5 676.7L1687.1 675.9L1687.8 675.1L1688.4 674.3L1689.1 673.4L1689.8 672.6L1690.5 671.8M1690.1 671.8L1690.1 696L1691.2 699M1691.9 698L1692.8 694L1693.1 674.9L1693.1 674.7L1693.3 674.3L1693.4 673.6L1693.6 672.8L1693.8 671.9L1694.1 670.9L1694.4 669.8L1694.7 668.6L1695.1 667.4L1695.4 666.2L1695.9 665L1696.3 663.7L1696.8 662.5L1697.3 661.2L1697.8 659.9L1698.3 658.7L1698.9 657.4L1699.5 656.1L1700.1 654.8L1700.7 653.5L1701.4 652.1L1702.1 650.8L1702.8 649.4L1703.5 648M1703.1 648L1703.1 674L1704.2 677M1704.9 676L1705.8 672L1706.1 650.9L1706.1 650.7L1706.3 650.1L1706.4 649.4L1706.6 648.5L1706.8 647.5L1707.1 646.3L1707.4 645.1L1707.7 643.8L1708.1 642.5L1708.5 641.1L1708.9 639.7L1709.3 638.2L1709.8 636.8L1710.3 635.4L1710.8 633.9L1711.4 632.4L1711.9 630.9L1712.5 629.4L1713.2 627.9L1713.8 626.4L1714.5 624.8L1715.2 623.2L1715.9 621.6L1716.6 620M1716.2 620L1716.2 645.2L1717.3 648.2M1718 647.2L1718.9 643.2L1719.2 622.6L1719.2 622.4L1719.4 621.9L1719.5 621.1L1719.7 620.3L1719.9 619.2L1720.2 618.1L1720.5 616.9L1720.8 615.6L1721.2 614.3L1721.6 612.9L1722 611.6L1722.4 610.1L1722.9 608.7L1723.4 607.3L1723.9 605.8L1724.5 604.4L1725 602.9L1725.6 601.4L1726.3 599.9L1726.9 598.4L1727.6 596.8L1728.3 595.2L1729 593.6L1729.7 592M1729.7 592L1729.9 604.6" stroke-width="5.5"/>
<path d="M339.2 1042.6L339.5 1048.9L340.3 1055.3L341.1 1048.9L341.3 1041.6M361.2 1038.3L361.5 1045.8L362.3 1052.3L363.1 1045.8L363.3 1037.3M381.6 1033.9L381.9 1042.8L382.7 1049.3L383.5 1042.8L383.7 1033.1M403.8 1029.6L404.1 1039.8L404.9 1046.3L405.8 1039.8L405.9 1028.7M425.8 1025.2L426.1 1036.7L426.9 1043.3L427.8 1036.7L428 1024.3M448.8 1020.7L449.1 1033.3L450 1039.9L450.8 1033.3L451 1019.7M471.6 1016.2L471.9 1030.1L472.8 1036.7L473.6 1030.1L473.8 1015.2M494.6 1010.8L494.9 1027L495.8 1033.7L496.6 1027L496.8 1009.8M517.5 1005.1L517.8 1024.6L518.7 1031.3L519.5 1024.6L519.7 1004.1M539.8 998.6L540.1 1022L541 1028.7L541.8 1022L542 997.6M562.8 991.9L563.1 1019.1L564 1025.9L564.8 1019.1L565 990.9M585.6 985.7L585.9 1016.5L586.8 1023.3L587.6 1016.5L587.9 984.7M607.8 979.9L608.1 1014.4L609 1020.9L609.8 1014.4L610 978.9M630.6 974.3L630.9 1012.1L631.7 1018.3L632.5 1012.1L632.7 973.3M652.6 969.8L652.9 1009.7L653.7 1015.7L654.4 1009.7L654.6 968.8M675.2 965.1L675.5 1007.6L676.2 1013.3L677 1007.6L677.2 964.5M696.8 961.6L697.1 1005.3L697.8 1010.7L698.5 1005.3L698.7 960.6M718.8 958.3L719.1 1003.3L719.8 1008.4L720.4 1003.3L720.6 957.3M739.8 955.6L740.1 1001.1L740.7 1006L741.3 1001.1L741.5 954.6M760.8 952.9L761.1 999.1L761.7 1003.7L762.3 999.1L762.5 951.9M781.8 949.8L782.1 997.1L782.7 1001.4L783.2 997.1L783.4 948.8M802.6 946.6L802.9 995L803.4 999L803.9 995L804.1 945.6M822.8 943.3L823.1 992.9L823.6 996.7L824 992.9L824.2 942.3M842.8 939.4L843.1 989.8L843.5 993.3L844 989.8L844.2 938.4M862.6 936L862.9 988.5L863.3 991.7L863.7 988.5L863.9 935M882.7 932.4L883 986.3L883.4 989.3L883.8 986.3L884 931.4M901.6 928.7L901.9 983.8L902.3 986.7L902.7 983.8L902.9 927.7M921.4 925.1L921.7 981L922 983.7L922.3 981L922.5 924.1M940.3 921.6L940.6 979.1L940.9 981.7L941.2 979.1L941.4 920.6M959.2 918.3L959.5 977.3L959.8 979.7L960.1 977.3L960.3 917.3M977.4 914.9L977.7 974.8L978 977.1L978.3 974.8L978.5 913.9M996.2 911.6L996.5 972.5L996.8 974.7L997 972.5L997.2 910.6M1014.4 908L1014.7 970.6L1014.9 972.7L1015.2 970.6L1015.4 907M1032.2 904.5L1032.5 967.7L1032.7 969.7L1033 967.7L1033.2 903.5M1050.2 901.1L1050.5 964.8L1050.7 966.7L1050.9 964.8L1051.1 900.1M1067.8 897.5L1068.1 962.9L1068.3 964.7L1068.5 962.9L1068.7 896.5M1084.8 894.2L1085.1 960.2L1085.3 961.9L1085.5 960.2L1085.7 893.2M1102.2 890.3L1102.5 956.9L1102.7 958.4L1102.9 956.9L1103.1 889.3M1119.2 886.5L1119.5 953.6L1119.7 955L1119.9 953.6L1120.1 885.5M1135.7 883.3L1136 950.5L1136.2 951.8L1136.4 950.5L1136.6 882.3M1152.7 880.2L1153 948.1L1153.2 949.3L1153.3 948.1L1153.5 879.2M1169.4 877.1L1169.7 945.2L1169.9 946.3L1170 945.2L1170.2 876.1M1186.2 873.3L1186.5 942L1186.6 943L1186.8 942L1187 872.3M1202.2 870.3L1202.5 939.4L1202.6 940.3L1202.7 939.4L1202.9 869.3M1218.2 866.7L1218.5 936L1218.6 936.8L1218.7 936L1218.9 865.7M1234.2 863.9L1234.5 933.5L1234.6 934.3L1234.7 933.5L1234.9 862.9M1249.7 860.6L1250 930.2L1250.1 931L1250.2 930.2L1250.4 859.6M1265.7 857.1L1266 927L1266.1 927.8L1266.2 927L1266.4 856.1M1280.7 853.9L1281 923.5L1281.1 924.3L1281.2 923.5L1281.4 852.9M1295.5 850.3L1295.8 919.5L1295.9 920.3L1296 919.5L1296.2 849.3M1310.7 846.7L1311 916.5L1311.1 917.3L1311.2 916.5L1311.4 845.7M1325.4 843.4L1325.7 912.5L1325.8 913.3L1325.9 912.5L1326.1 842.4M1340 839.4L1340.3 908.5L1340.4 909.3L1340.5 908.5L1340.7 838.4M1354.7 836L1355 904.5L1355.1 905.3L1355.2 904.5L1355.4 835M1368.7 832.6L1369 902.2L1369.1 903L1369.2 902.2L1369.4 831.6M1383.2 829L1383.5 897.5L1383.6 898.3L1383.7 897.5L1383.9 828M1397.4 825.9L1397.7 894.2L1397.8 895L1397.9 894.2L1398.1 824.9M1411.2 822.9L1411.5 888.8L1411.6 889.6L1411.7 888.8L1411.9 821.9M1425 818.3L1425.3 884.5L1425.4 885.3L1425.5 884.5L1425.7 817.3M1438.4 814.6L1438.7 880.5L1438.8 881.3L1438.9 880.5L1439.1 813.6M1452.2 811L1452.5 875.8L1452.6 876.6L1452.7 875.8L1452.9 810M1465.2 807L1465.5 871.5L1465.6 872.3L1465.7 871.5L1465.9 806M1478.4 803L1478.7 866.5L1478.8 867.3L1478.9 866.5L1479.1 802M1491.7 799.1L1492 861.6L1492.1 862.4L1492.2 861.6L1492.4 798.1M1504.7 795.2L1505 856.5L1505.1 857.3L1505.2 856.5L1505.4 794.2M1517.4 791L1517.7 851.5L1517.8 852.3L1517.9 851.5L1518.1 790M1530 787.2L1530.3 846.6L1530.4 847.4L1530.5 846.6L1530.7 786.2M1542.7 782.9L1543 840.6L1543.1 841.4L1543.2 840.6L1543.4 781.9M1555.2 778.6L1555.5 835.3L1555.6 836.1L1555.7 835.3L1555.9 777.6M1567.5 773.9L1567.8 829.5L1567.9 830.3L1568 829.5L1568.2 772.9M1580 768.9L1580.3 822.6L1580.4 823.4L1580.5 822.6L1580.7 767.9M1591.9 764L1592.2 816.3L1592.3 817.1L1592.4 816.3L1592.6 763M1604.2 758.6L1604.5 809.5L1604.6 810.3L1604.7 809.5L1604.9 757.6M1616.3 752.6L1616.6 801.8L1616.7 802.6L1616.8 801.8L1617 751.6M1628.7 746.7L1629 794.2L1629.1 795L1629.2 794.2L1629.4 745.7M1641.1 740.3L1641.4 785.5L1641.5 786.3L1641.6 785.5L1641.8 739.3M1653.6 732.3L1653.9 775.5L1654 776.3L1654.1 775.5L1654.3 731.3M1666 723.6L1666.3 764.8L1666.4 765.6L1666.5 764.8L1666.7 722.6M1678.3 712.8L1678.6 752.6L1678.7 753.4L1678.8 752.6L1679 711.8M1691.2 699L1691.5 738.1L1691.6 738.9L1691.7 738.1L1691.9 698M1704.2 677L1704.5 719.3L1704.6 720.1L1704.7 719.3L1704.9 676M1717.3 648.2L1717.6 689.3L1717.7 690.1L1717.8 689.3L1718 647.2" stroke-width="4.6"/>
<path d="M359.8 1014.5V1013M380.2 1008.5V995M402.4 1002.5V979M424.4 996.5V964.6M447.4 990.5V951.6M470.2 984.5V940.6M493.2 977.5V930.6M516.1 970.4V921.4M538.4 962V913M561.4 953.6V905.4M584.2 946V899M606.4 939V891M629.2 932.6V885.4M651.2 928V879M673.8 923V874M695.4 920V868.5M717.4 917V864.6M738.4 915V859M759.4 913V854.6M780.4 910V851M801.2 907V847M821.4 903.6V842M841.4 900V838M861.2 896V834.6M881.4 892V830" stroke-width="3.1" stroke-linecap="butt"/>
<path d="M900.4 888V826M920.2 884.4V822M939.2 880.4V819M958.2 876.6V814M976.4 873V810.6M995.2 869.4V807.4M1013.4 865V803M1031.2 861.4V798M1049.2 858V794M1066.8 853.6V791M1083.8 850.2V786M1101.3 846.2V781.8M1118.3 842.2V777.5M1134.8 839.2V773M1151.8 835.9V768.5M1168.5 832.7V763.7M1185.3 828.7V758M1201.3 825.7V754M1217.3 822V749M1233.3 819.1V743.7M1248.8 815.9V739M1264.8 812.2V733M1279.8 809.2V727M1294.6 806V721.8M1309.8 802V716.5M1324.5 799.1V710M1339.1 795.2V703.7M1353.8 792.2V697M1367.8 788.2V690M1382.3 785.2V683.7M1396.5 782.2V677" stroke-width="2.8" stroke-linecap="butt"/>
<path d="M1410.3 780.5V669.8M1424.1 775.8V662.3M1437.5 772.3V655M1451.3 769.3V647.5M1464.3 765.5V639M1477.5 762.1V631M1490.8 758.8V621M1503.8 755.5V611.5M1516.5 751.8V601.7M1529.1 748.6V592.7M1541.8 745.3V580.7M1554.3 741.5V568.7M1566.6 737.5V555M1579.1 733.6V537M1591 729.5V521.6M1603.3 724.8V506.6M1615.4 719.8V489M1627.8 714.8V469M1640.2 709.8V447M1652.7 702.8V416M1665.1 695.3V427.5M1677.4 685.3V413.5M1690.3 671.8V380.4M1703.3 648V440M1716.4 620V415" stroke-width="2.3" stroke-linecap="butt"/>
<path d="M1729.5 592V415.4" stroke-width="1.5" stroke-linecap="butt"/>
<path d="M379.8 999.5V1008.5M402 983.5V1002.5M424 969.1V996.5M447 956.1V990.5M469.8 945.1V984.5M492.8 935.1V977.5M515.7 925.9V970.4M538 917.5V962M561 909.9V953.6M583.8 903.5V946M606 895.5V939M628.8 889.9V932.6M650.8 883.5V928M673.4 878.5V923M695 873V920M717 869.1V917M738 863.5V915M759 859.1V913M780 855.5V910M800.8 851.5V907M821 846.5V903.6M841 842.5V900M860.8 839.1V896M881 834.5V892M900 830.5V888M919.8 826.5V884.4M938.8 823.5V880.4M957.8 818.5V876.6M976 815.1V873M994.8 811.9V869.4M1013 807.5V865M1030.8 802.5V861.4M1048.8 798.5V858M1066.4 795.5V853.6M1083.4 790.5V850.2M1100.9 786.3V846.2M1117.9 782V842.2M1134.4 777.5V839.2M1151.4 773V835.9M1168.1 768.2V832.7M1184.9 762.5V828.7M1200.9 758.5V825.7M1216.9 753.5V822M1232.9 748.2V819.1M1248.4 743.5V815.9M1264.4 737.5V812.2M1279.4 731.5V809.2M1294.2 726.3V806M1309.4 721V802M1324.1 714.5V799.1M1338.7 708.2V795.2M1353.4 701.5V792.2M1367.4 694.5V788.2M1381.9 688.2V785.2M1396.1 681.5V782.2M1409.9 674.3V780.5M1423.7 666.8V775.8M1437.1 659.5V772.3M1450.9 652V769.3M1463.9 643.5V765.5M1477.1 635.5V762.1M1490.4 625.5V758.8M1503.4 616V755.5M1516.1 606.2V751.8M1528.7 597.2V748.6M1541.4 585.2V745.3M1553.9 573.2V741.5M1566.2 559.5V737.5M1578.7 541.5V733.6M1590.6 526.1V729.5M1602.9 511.1V724.8M1615 493.5V719.8M1627.4 473.5V714.8M1639.8 451.5V709.8M1652.3 420.5V702.8M1664.7 432V695.3M1677 418V685.3M1689.9 384.9V671.8M1702.9 444.5V648M1716 419.5V620" stroke-width="4.3" stroke-dasharray="0 10.8"/>
<path d="M360.1 1015.8V1014.5M380.5 997.8V1008.5M402.7 981.8V1002.5M424.7 967.4V996.5M447.7 954.4V990.5M470.5 943.4V984.5M493.5 933.4V977.5M516.4 924.2V970.4M538.7 915.8V962M561.7 908.2V953.6M584.5 901.8V946M606.7 893.8V939M629.5 888.2V932.6M651.5 881.8V928M674.1 876.8V923M695.7 871.3V920M717.7 867.4V917M738.7 861.8V915M759.7 857.4V913M780.7 853.8V910" stroke-width="4.5" stroke-dasharray="0 4.7"/>
<path d="M801.5 850.8V907M821.7 845.8V903.6M841.7 841.8V900M861.5 838.4V896M881.7 833.8V892M900.7 829.8V888M920.5 825.8V884.4M939.5 822.8V880.4M958.5 817.8V876.6M976.7 814.4V873M995.5 811.2V869.4M1013.7 806.8V865M1031.5 801.8V861.4M1049.5 797.8V858M1067.1 794.8V853.6M1084.1 789.8V850.2M1101.6 785.6V846.2M1118.6 781.3V842.2M1135.1 776.8V839.2M1152.1 772.3V835.9" stroke-width="4.5" stroke-dasharray="0 6.3"/>
<path d="M1168.8 768.5V832.7M1185.6 762.8V828.7M1201.6 758.8V825.7M1217.6 753.8V822M1233.6 748.5V819.1M1249.1 743.8V815.9M1265.1 737.8V812.2M1280.1 731.8V809.2M1294.9 726.6V806M1310.1 721.3V802M1324.8 714.8V799.1M1339.4 708.5V795.2M1354.1 701.8V792.2M1368.1 694.8V788.2M1382.6 688.5V785.2M1396.8 681.8V782.2M1410.6 674.6V780.5M1424.4 667.1V775.8M1437.8 659.8V772.3M1451.6 652.3V769.3M1464.6 643.8V765.5M1477.8 635.8V762.1M1491.1 625.8V758.8M1504.1 616.3V755.5M1516.8 606.5V751.8M1529.4 597.5V748.6M1542.1 585.5V745.3M1554.6 573.5V741.5M1566.9 559.8V737.5M1579.4 541.8V733.6M1591.3 526.4V729.5M1603.6 511.4V724.8M1615.7 493.8V719.8M1628.1 473.8V714.8M1640.5 451.8V709.8M1653 420.8V702.8M1665.4 432.3V695.3M1677.7 418.3V685.3M1690.6 385.2V671.8M1703.6 444.8V648M1716.7 419.8V620" stroke-width="4.5" stroke-dasharray="0 8.0"/>
<path d="M1729.8 423.2V592" stroke-width="4.5" stroke-dasharray="0 13.0"/>
<path d="M360 1013h0M380.4 995h0M402.6 979h0M424.6 964.6h0M447.6 951.6h0M470.4 940.6h0M493.4 930.6h0M516.3 921.4h0M538.6 913h0M561.6 905.4h0M584.4 899h0M606.6 891h0M629.4 885.4h0M651.4 879h0M674 874h0M695.6 868.5h0M717.6 864.6h0M738.6 859h0M759.6 854.6h0M780.6 851h0M801.4 847h0M821.6 842h0M841.6 838h0M861.4 834.6h0M881.6 830h0M900.6 826h0M920.4 822h0M939.4 819h0M958.4 814h0M976.6 810.6h0M995.4 807.4h0M1013.6 803h0M1031.4 798h0M1049.4 794h0M1067 791h0M1084 786h0M1101.5 781.8h0M1118.5 777.5h0M1135 773h0M1152 768.5h0M1168.7 763.7h0M1185.5 758h0M1201.5 754h0M1217.5 749h0M1233.5 743.7h0M1249 739h0M1265 733h0M1280 727h0M1294.8 721.8h0M1310 716.5h0M1324.7 710h0M1339.3 703.7h0M1354 697h0M1368 690h0M1382.5 683.7h0M1396.7 677h0M1410.5 669.8h0M1424.3 662.3h0M1437.7 655h0M1451.5 647.5h0M1464.5 639h0M1477.7 631h0M1491 621h0M1504 611.5h0M1516.7 601.7h0M1529.3 592.7h0M1542 580.7h0M1554.5 568.7h0M1566.8 555h0M1579.3 537h0M1591.2 521.6h0M1603.5 506.6h0M1615.6 489h0M1628 469h0M1640.4 447h0M1652.9 416h0M1665.3 427.5h0M1677.6 413.5h0M1690.5 380.4h0M1703.5 440h0M1716.6 415h0M1729.7 415.4h0" stroke-width="4.6"/>
<path d="M1503.5 611V140" stroke-width="2.8" stroke-linecap="butt"/>
<path d="M1652.9 417V140M1677.4 372V140" stroke-width="2.2" stroke-linecap="butt"/>
<path d="M1703.5 426V383" stroke-width="1.8" stroke-linecap="butt"/>
<path d="M1703.5 383V140M1716.5 620V140" stroke-width="3" stroke-linecap="butt"/>
<path d="M1703.5 425.6V246" stroke-width="4.7" stroke-dasharray="0 11.3"/>
<path d="M1716.6 405V225" stroke-width="4.7" stroke-dasharray="0 9.7"/>
<path d="M1716.6 255V236M1716.6 216V208" stroke-width="5"/>
<path d="M1729.7 258V237" stroke-width="5.2"/>
<path d="M1690.5 345.6V333.5M1729.7 348.5V330.6" stroke-width="1.6" stroke-linecap="butt"/>
<path d="M1665.3 407.5h0M1665.3 391h0M1665.3 389h0M1677.5 391h0M1677.5 372h0M1677.5 360h0M1677.5 353.8h0M1690.5 345.6h0M1690.5 333.5h0M1690.5 313.5h0M1690.5 309.6h0M1703.5 425.6h0M1716.6 197.5h0M1729.7 380.4h0M1729.7 348.5h0M1729.7 330.6h0M1729.7 300.4h0M1729.7 276.5h0M1729.7 265.4h0" stroke-width="4.7"/>
</g>
<g font-size="16">
<text transform="translate(528.7 924.3) rotate(-80)">n=1</text>
<text transform="translate(551 915.9) rotate(-80)">n=2</text>
<text transform="translate(574 908.3) rotate(-80)">n=3</text>
<text transform="translate(596.8 901.9) rotate(-80)">n=4</text>
<text transform="translate(619 893.9) rotate(-80)">n=5</text>
<text transform="translate(641.8 888.3) rotate(-80)">n=6</text>
<text transform="translate(663.8 881.9) rotate(-80)">n=7</text>
<text transform="translate(708 871.4) rotate(-80)">n=8</text>
<text transform="translate(730 867.5) rotate(-80)">n=9</text>
<text transform="translate(772 857.5) rotate(-80)">n=10</text>
<text transform="translate(793 853.9) rotate(-80)">n=11</text>
<text transform="translate(813.8 849.9) rotate(-80)">n=12</text>
<text transform="translate(854 840.9) rotate(-80)">n=13</text>
<text transform="translate(873.8 837.5) rotate(-80)">n=14</text>
<text transform="translate(913 828.9) rotate(-80)">n=15</text>
<text transform="translate(932.8 824.9) rotate(-80)">n=16</text>
<text transform="translate(951.8 821.9) rotate(-80)">n=17</text>
<text transform="translate(970.8 816.9) rotate(-80)">n=18</text>
<text transform="translate(989 813.5) rotate(-80)">n=19</text>
<text transform="translate(1043.8 800.9) rotate(-80)">n=20</text>
<text transform="translate(1061.8 796.9) rotate(-80)">n=21</text>
<text transform="translate(1096.4 788.9) rotate(-80)">n=22</text>
<text transform="translate(1113.9 784.7) rotate(-80)">n=23</text>
<text transform="translate(1130.9 780.4) rotate(-80)">n=24</text>
<text transform="translate(1147.4 775.9) rotate(-80)">n=25</text>
<text transform="translate(1164.4 771.4) rotate(-80)">n=26</text>
<text transform="translate(1181.1 766.6) rotate(-80)">n=27</text>
<text transform="translate(1197.9 760.9) rotate(-80)">n=28</text>
<text transform="translate(1229.9 751.9) rotate(-80)">n=29</text>
<text transform="translate(1245.9 746.6) rotate(-80)">n=30</text>
<text transform="translate(1261.4 741.9) rotate(-80)">n=31</text>
<text transform="translate(1277.4 735.9) rotate(-80)">n=32</text>
<text transform="translate(1307.2 724.7) rotate(-80)">n=33</text>
<text transform="translate(1322.4 719.4) rotate(-80)">n=34</text>
<text transform="translate(1351.7 706.6) rotate(-80)">n=35</text>
<text transform="translate(1366.4 699.9) rotate(-80)">n=36</text>
<text transform="translate(1380.4 692.9) rotate(-80)">n=37</text>
<text transform="translate(1422.9 672.7) rotate(-80)">n=38</text>
<text transform="translate(1450.1 657.9) rotate(-80)">n=39</text>
<text transform="translate(1463.9 650.4) rotate(-80)">n=40</text>
<text transform="translate(1476.9 641.9) rotate(-80)">n=41</text>
<text transform="translate(1503.4 623.9) rotate(-80)">n=42</text>
<text transform="translate(1529.1 604.6) rotate(-80)">n=43</text>
<text transform="translate(1541.7 595.6) rotate(-80)">n=44</text>
<text transform="translate(1554.4 583.6) rotate(-80)">n=45</text>
<text transform="translate(1566.9 571.6) rotate(-80)">n=46</text>
<text transform="translate(1579.2 557.9) rotate(-80)">n=47</text>
<text transform="translate(1591.7 539.9) rotate(-80)">n=48</text>
<text transform="translate(1603.6 524.5) rotate(-80)">n=49</text>
<text transform="translate(1615.9 509.5) rotate(-80)">n=50</text>
<text transform="translate(1628 491.9) rotate(-80)">n=51</text>
<text transform="translate(1640.4 471.9) rotate(-80)">n=52</text>
</g>
<rect x="250.5" y="144.5" width="1550" height="924" fill="none" stroke="#000" stroke-width="1.1"/>
<path d="M285.1 1068v16.7M499.7 1068v16.7M714.2 1068v16.7M928.8 1068v16.7M1143.4 1068v16.7M1357.9 1068v16.7M1572.5 1068v16.7M1787.1 1068v16.7M328 1068v11.1M370.9 1068v11.1M413.8 1068v11.1M456.8 1068v11.1M542.6 1068v11.1M585.5 1068v11.1M628.4 1068v11.1M671.3 1068v11.1M757.2 1068v11.1M800.1 1068v11.1M843 1068v11.1M885.9 1068v11.1M971.7 1068v11.1M1014.6 1068v11.1M1057.6 1068v11.1M1100.5 1068v11.1M1186.3 1068v11.1M1229.2 1068v11.1M1272.1 1068v11.1M1315 1068v11.1M1400.9 1068v11.1M1443.8 1068v11.1M1486.7 1068v11.1M1529.6 1068v11.1M1615.4 1068v11.1M1658.3 1068v11.1M1701.3 1068v11.1M1744.2 1068v11.1M250.5 962.9h-17.2M250.5 857.8h-17.2M250.5 752.6h-17.2M250.5 647.5h-17.2M250.5 542.3h-17.2M250.5 437.2h-17.2M250.5 332h-17.2M250.5 226.9h-17.2M250.5 1047h-11.6M250.5 1026h-11.6M250.5 1005h-11.6M250.5 983.9h-11.6M250.5 941.9h-11.6M250.5 920.8h-11.6M250.5 899.8h-11.6M250.5 878.8h-11.6M250.5 836.7h-11.6M250.5 815.7h-11.6M250.5 794.7h-11.6M250.5 773.6h-11.6M250.5 731.6h-11.6M250.5 710.6h-11.6M250.5 689.5h-11.6M250.5 668.5h-11.6M250.5 626.4h-11.6M250.5 605.4h-11.6M250.5 584.4h-11.6M250.5 563.4h-11.6M250.5 521.3h-11.6M250.5 500.3h-11.6M250.5 479.2h-11.6M250.5 458.2h-11.6M250.5 416.2h-11.6M250.5 395.1h-11.6M250.5 374.1h-11.6M250.5 353.1h-11.6M250.5 311h-11.6M250.5 290h-11.6M250.5 269h-11.6M250.5 247.9h-11.6M250.5 205.9h-11.6M250.5 184.8h-11.6M250.5 163.8h-11.6" fill="none" stroke="#000" stroke-width="5.8"/>
<g font-size="35.4" letter-spacing="0.45" text-anchor="middle">
<text x="284.9" y="1116.9">109.10</text>
<text x="499.5" y="1116.9">109.15</text>
<text x="714" y="1116.9">109.20</text>
<text x="928.6" y="1116.9">109.25</text>
<text x="1143.2" y="1116.9">109.30</text>
<text x="1357.7" y="1116.9">109.35</text>
<text x="1572.3" y="1116.9">109.40</text>
<text x="1786.9" y="1116.9">109.45</text>
</g>
<g font-size="35.4" letter-spacing="0.45" text-anchor="end">
<text x="227.9" y="976.2">200</text>
<text x="227.9" y="871.1">300</text>
<text x="227.9" y="765.9">400</text>
<text x="227.9" y="660.8">500</text>
<text x="227.9" y="555.6">600</text>
<text x="227.9" y="450.5">700</text>
<text x="227.9" y="345.3">800</text>
<text x="227.9" y="240.2">900</text>
</g>
<text x="1025" y="1172" font-size="55.56" text-anchor="middle">Age (Myr)</text>
<text transform="translate(141 606) rotate(-90)" font-size="55.56" text-anchor="middle">O1 period (days)</text>
<rect x="263.5" y="157.5" width="381" height="109" rx="4.5" ry="4.5" fill="#fff" fill-opacity="0.8" stroke="#ccc" stroke-opacity="0.8" stroke-width="1.4"/>
<path d="M272 177H324" stroke="#000" stroke-width="2" fill="none"/>
<circle cx="298.2" cy="177" r="2.2"/>
<circle cx="298.5" cy="231.5" r="6.9" fill="#ffff00" fill-opacity="0.2" stroke="#ffff00" stroke-opacity="0.2" stroke-width="1.4"/>
<g font-size="25">
<text x="343" y="185.7">m4.80_z0.0125_y0.275</text>
<text x="343" y="222.7">intersection w/ P,L,T,R</text>
<text x="343" y="250.7">loosely defined</text>
</g>
</svg>
</body>
</html>
